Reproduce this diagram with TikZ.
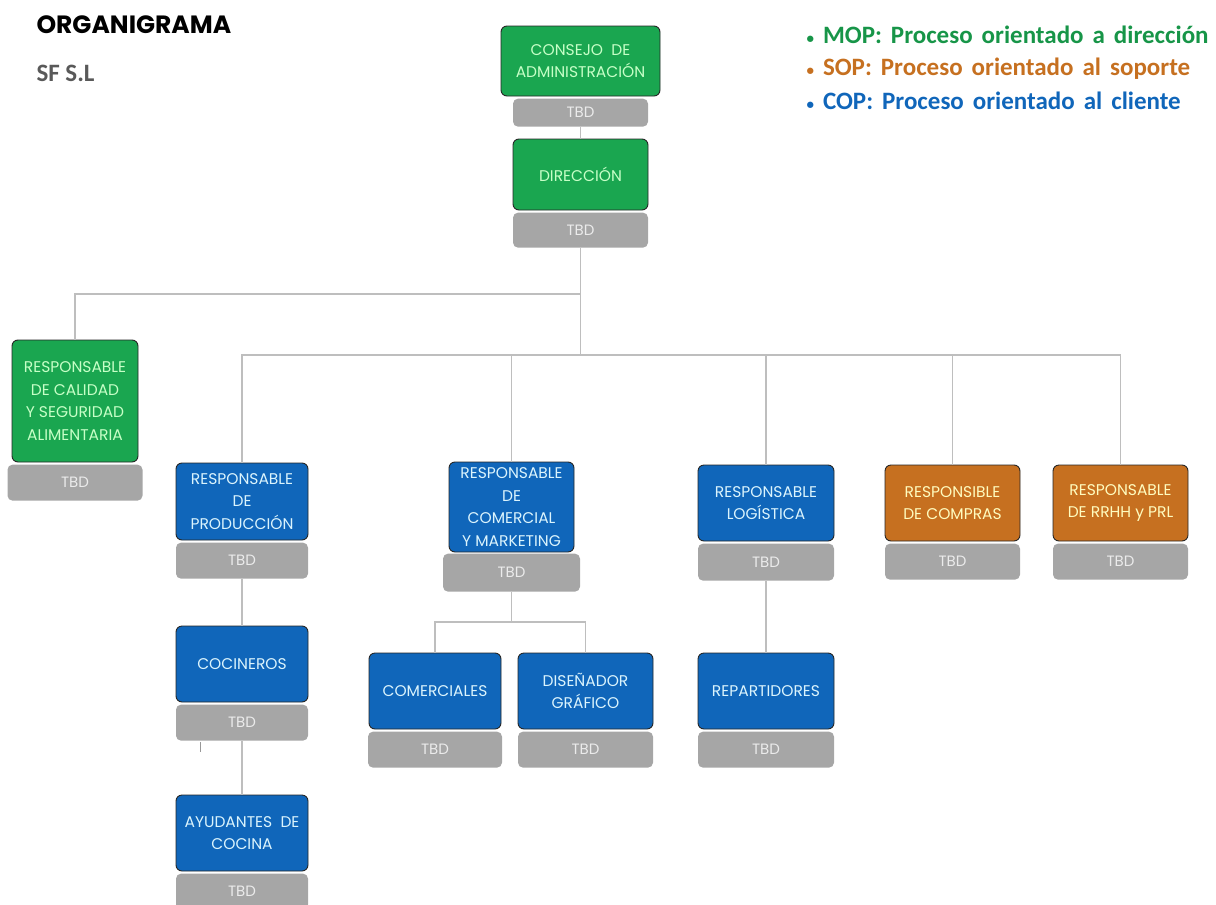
\documentclass[tikz,border=0pt]{standalone}
\usepackage{fontspec}
\setmainfont{Carlito}
\newfontfamily\boxfont{Poppins}
\usetikzlibrary{positioning}

\definecolor{mopgreen}{RGB}{26,166,80}
\definecolor{copblue}{RGB}{16,102,186}
\definecolor{soporange}{RGB}{198,112,32}
\definecolor{tbdgrey}{RGB}{166,166,166}
\definecolor{linegrey}{RGB}{190,190,190}
\newcommand{\punto}{{\fontsize{15}{15}\selectfont\textbullet}\hspace{9pt}}

\begin{document}
\begin{tikzpicture}[x=1pt,y=-1pt,
    box/.style={draw=black!85,line width=0.9pt,rounded corners=6pt,align=center,inner sep=0pt,
      font=\boxfont\fontsize{15.5}{22.5}\selectfont,minimum width=134pt,minimum height=76pt},
    mop/.style={box,fill=mopgreen,text=green!22!white},
    cop/.style={box,fill=copblue,text=cyan!14!white},
    sop/.style={box,fill=soporange,text=yellow!25!white},
    tbd/.style={fill=tbdgrey,rounded corners=5pt,text=white!92!black,inner sep=0pt,
      font=\boxfont\fontsize{15}{17}\selectfont,minimum width=134pt,minimum height=36pt},
    legend/.style={anchor=west,font=\bfseries\fontsize{25}{27}\selectfont,
      execute at begin node={\spaceskip=9pt\relax}},
    link/.style={draw=linegrey,line width=1.4pt}]
  \useasboundingbox (0,0) rectangle (1216,905);

  \node[anchor=west,font=\boxfont\bfseries\fontsize{25}{28}\selectfont] (titulo) at (33,25) {ORGANIGRAMA};
  \node[anchor=west,font=\bfseries\fontsize{25}{28}\selectfont,text=black!65] (empresa) at (33,73) {SF S.L};

  \node[legend,text=mopgreen!90!black] (lmop) at (803,35) {\punto MOP: Proceso orientado a dirección};
  \node[legend,text=soporange] (lsop) at (803,69) {\punto SOP: Proceso orientado al soporte};
  \node[legend,text=copblue] (lcop) at (803,101) {\punto COP: Proceso orientado al cliente};

  \node[mop,minimum width=159pt,minimum height=70pt] (cons) at (580.5,61) {CONSEJO\ \ DE\\ADMINISTRACIÓN};
  \node[tbd,minimum width=135pt,minimum height=28pt] (consT) [below=2pt of cons] {TBD};
  \node[mop,minimum width=135pt,minimum height=71pt] (dir) at (580.5,174.5) {DIRECCIÓN};
  \node[tbd,minimum width=135pt,minimum height=35pt] (dirT) [below=2pt of dir] {TBD};

  \node[mop,minimum width=126pt,minimum height=122pt] (cal) at (75,401) {RESPONSABLE\\DE CALIDAD\\Y SEGURIDAD\\ALIMENTARIA};
  \node[tbd,minimum width=135pt] (calT) [below=2pt of cal] {TBD};

  \node[cop,minimum width=132pt,minimum height=77pt] (prod) at (242,501.5) {RESPONSABLE\\DE\\PRODUCCIÓN};
  \node[tbd,minimum width=132pt] (prodT) [below=2pt of prod] {TBD};
  \node[cop,minimum width=125pt,minimum height=90pt] (com) at (511.5,507) {RESPONSABLE\\DE\\COMERCIAL\\Y MARKETING};
  \node[tbd,minimum width=137pt,minimum height=38pt] (comT) [below=1pt of com] {TBD};
  \node[cop,minimum width=136pt] (log) at (766,503) {RESPONSABLE\\LOGÍSTICA};
  \node[tbd,minimum width=136pt,minimum height=37pt] (logT) [below=2pt of log] {TBD};
  \node[sop,minimum width=135pt] (comp) at (952.5,503) {RESPONSIBLE\\DE COMPRAS};
  \node[tbd,minimum width=135pt] (compT) [below=2pt of comp] {TBD};
  \node[sop,minimum width=135pt] (rrhh) at (1120.5,503) {RESPONSABLE\\DE RRHH y PRL};
  \node[tbd,minimum width=135pt] (rrhhT) [below=2pt of rrhh] {TBD};

  \node[cop,minimum width=132pt] (coc) at (242,664) {COCINEROS};
  \node[tbd,minimum width=132pt] (cocT) [below=2pt of coc] {TBD};
  \node[cop,minimum width=132pt] (ayu) at (242,833) {AYUDANTES\ \ DE\\COCINA};
  \node[tbd,minimum width=132pt] (ayuT) [below=2pt of ayu] {TBD};

  \node[cop,minimum width=132pt] (cmls) at (435,691) {COMERCIALES};
  \node[tbd,minimum width=134pt] (cmlsT) [below=2pt of cmls] {TBD};
  \node[cop,minimum width=135pt] (dis) at (585.5,691) {DISEÑADOR\\GRÁFICO};
  \node[tbd,minimum width=135pt] (disT) [below=2pt of dis] {TBD};
  \node[cop,minimum width=136pt] (rep) at (766,691) {REPARTIDORES};
  \node[tbd,minimum width=136pt] (repT) [below=2pt of rep] {TBD};

  \coordinate (busA) at (580.5,294);
  \coordinate (busB) at (580.5,355);
  \coordinate (busC) at (511.5,622);
  \coordinate (marca) at (200,742);

  \path[link] (consT) -- (dir)
              (dirT) -- (busB)
              (busA) -| (cal)
              (busB) -| (prod)
              (busB) -| (com)
              (busB) -| (log)
              (busB) -| (comp)
              (busB) -| (rrhh)
              (prodT) -- (coc)
              (cocT) -- (ayu)
              (comT) -- (busC)
              (busC) -| (cmls)
              (busC) -| (dis)
              (logT) -- (rep);
  \draw[linegrey!80!black,line width=1pt] (marca) -- ++(0,10);
\end{tikzpicture}
\end{document}
